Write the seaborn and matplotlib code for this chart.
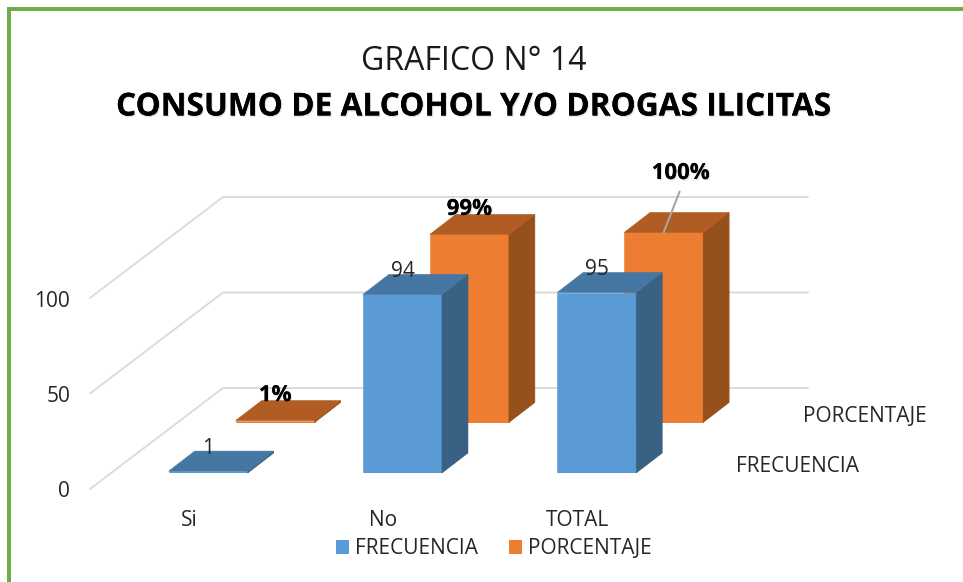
import matplotlib
matplotlib.use("Agg")
import matplotlib.pyplot as plt
import matplotlib.patheffects as pe
from matplotlib.lines import Line2D
from matplotlib.patches import Patch, Polygon, Rectangle
import seaborn as sns

categories = ["Si", "No", "TOTAL"]
frecuencia = [1, 94, 95]
porcentaje = [1, 99, 100]
porcentaje_labels = ["1%", "99%", "100%"]
y_ticks = [0, 50, 100]
title_top = "GRAFICO N° 14"
title_main = "CONSUMO DE ALCOHOL Y/O DROGAS ILICITAS"
series_names = ["FRECUENCIA", "PORCENTAJE"]

W, H = 963, 582
BLUE, BLUE_TOP, BLUE_SIDE = "#5B9BD5", "#4676A2", "#386184"
ORANGE, ORANGE_TOP, ORANGE_SIDE = "#ED7D31", "#B05C22", "#95501B"
GREEN = "#70AD47"
GRID = "#DCDCDC"
TEXT = "#262626"
PT = 0.72  # points per pixel at 100 dpi
LABEL_SIZE = 15

sns.set_theme(style="white")
plt.rcParams["font.family"] = ["Open Sans", "DejaVu Sans"]

fig = plt.figure(figsize=(W / 100, H / 100), dpi=100, facecolor="white")


def axes_px(left, right, top, bottom, z):
    ax = fig.add_axes([left / W, 1 - bottom / H, (right - left) / W, (bottom - top) / H], zorder=z)
    ax.patch.set_visible(False)
    ax.set_ylim(0, 100)
    return ax


shadow = [pe.withSimplePatchShadow(offset=(0.8, -1), shadow_rgbFace="#777777", alpha=0.22), pe.Normal()]

# Frame of the picture: only the top and left edges are drawn
fig.add_artist(Rectangle((7.3 / W, 0), 3.7 / W, 1 - 7 / H, transform=fig.transFigure, color=GREEN, lw=0))
fig.add_artist(Rectangle((7.3 / W, 1 - 11 / H), 1, 4 / H, transform=fig.transFigure, color=GREEN, lw=0))

fig.text(473.5 / W, 1 - 62 / H, title_top, ha="center", va="center", fontsize=23, color="#1a1a1a",
         fontweight="normal")
fig.text(474 / W, 1 - 107 / H, title_main, ha="center", va="center", fontsize=22.8, color="black",
         fontweight="bold", path_effects=shadow)

# Back wall and side wall gridlines
wall = axes_px(223, 808, 197, 388, 1)
wall.set_xlim(0, 1)
wall.axis("off")
side_dx = -133 / 585
side_dy = -101 / 1.91
for v in y_ticks:
    wall.add_line(Line2D([side_dx, 0, 1], [v + side_dy, v, v], color=GRID, lw=1.4, clip_on=False))

# Front floor axis: carries value labels and category labels
floor = axes_px(92, 675, 299, 489, 2)
floor.set_xlim(-0.5, 2.5)
floor.set_xticks(range(len(categories)), categories)
floor.set_yticks(y_ticks)
floor.tick_params(axis="both", length=0, labelsize=LABEL_SIZE, labelcolor=TEXT)
floor.tick_params(axis="y", pad=22 * PT)
floor.tick_params(axis="x", pad=21 * PT)
sns.despine(ax=floor, left=True, bottom=True)


def bars_3d(values, color, top_color, side_color, left, top, bottom, z):
    unit = 194.25
    ax = axes_px(left, left + 3 * unit, top, bottom, z)
    sns.barplot(x=categories, y=values, color=color, saturation=1, width=79 / unit,
                linewidth=0.4, edgecolor=color, ax=ax)
    ax.set_xlim(-0.5, 2.5)
    ax.set_ylim(0, 100)
    ax.axis("off")
    dx = 26 / unit
    dy = 20 / 1.9
    for bar in ax.patches:
        x0, x1, h = bar.get_x(), bar.get_x() + bar.get_width(), bar.get_height()
        ax.add_patch(Polygon([(x1, 0), (x1 + dx, dy), (x1 + dx, h + dy), (x1, h)], fc=side_color, ec=side_color,
                             lw=0.4, clip_on=False))
        ax.add_patch(Polygon([(x0, h), (x0 + dx, h + dy), (x1 + dx, h + dy), (x1, h)], fc=top_color, ec=top_color,
                             lw=0.4, clip_on=False))
    return ax


rear = bars_3d(porcentaje, ORANGE, ORANGE_TOP, ORANGE_SIDE, 178.0, 232.5, 422.5, 3)
front = bars_3d(frecuencia, BLUE, BLUE_TOP, BLUE_SIDE, 111.1, 283, 473, 4)

for i, v in enumerate(frecuencia):
    front.annotate(str(v), (i, v), xytext=(0, 23 * PT), textcoords="offset points", ha="center", va="center",
                   fontsize=LABEL_SIZE, color=TEXT, annotation_clip=False)

for i, (v, lab) in enumerate(zip(porcentaje, porcentaje_labels)):
    last = i == len(porcentaje) - 1
    offset = (17 * PT, 59 * PT) if last else (0, 25 * PT)
    rear.annotate(lab, (i, v), xytext=offset, textcoords="offset points", ha="center", va="center",
                  fontsize=16, fontweight="bold", color="black", path_effects=shadow, annotation_clip=False)
    if last:
        rear.annotate("", (i, v), xytext=(16 * PT, 41 * PT), textcoords="offset points", annotation_clip=False,
                      arrowprops=dict(arrowstyle="-", color="#A6A6A6", lw=1.5, shrinkA=0, shrinkB=0))

# Series axis labels
fig.text(803 / W, 1 - 416 / H, series_names[1], ha="left", va="center", fontsize=LABEL_SIZE, color=TEXT)
fig.text(736 / W, 1 - 466 / H, series_names[0], ha="left", va="center", fontsize=LABEL_SIZE, color=TEXT)

handles = [Patch(color=BLUE, lw=0, label=series_names[0]), Patch(color=ORANGE, lw=0, label=series_names[1])]
fig.legend(handles=handles, loc="center", bbox_to_anchor=(494 / W, 1 - 549 / H), ncol=2, frameon=False,
           fontsize=LABEL_SIZE, labelcolor=TEXT, handlelength=0.62, handleheight=0.62, handletextpad=0.3,
           columnspacing=1.48, borderpad=0, borderaxespad=0)

fig.savefig("out.png", dpi=100, facecolor="white")
